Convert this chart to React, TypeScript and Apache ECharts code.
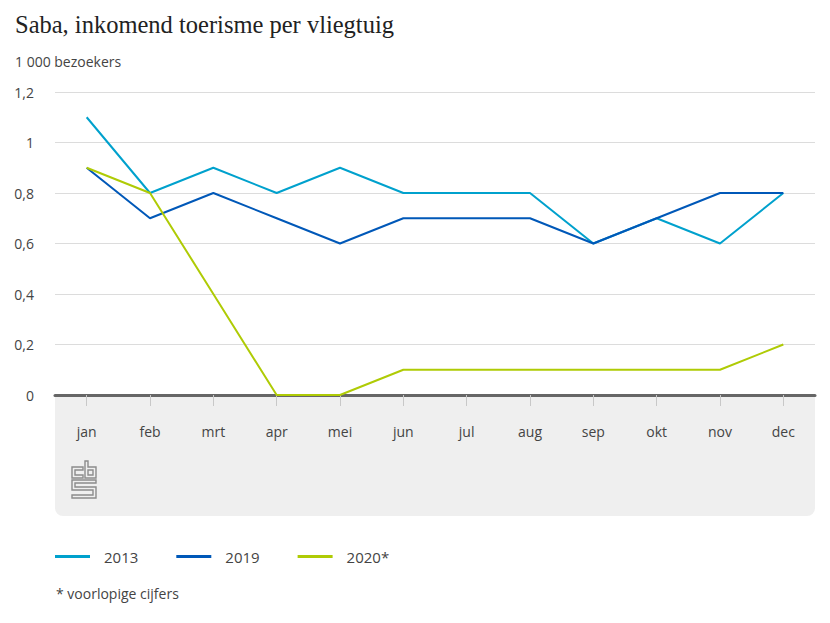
import React, { useEffect, useRef } from "react";
import * as echarts from "echarts";

const months = ["jan", "feb", "mrt", "apr", "mei", "jun", "jul", "aug", "sep", "okt", "nov", "dec"];
const values2013 = [1.1, 0.8, 0.9, 0.8, 0.9, 0.8, 0.8, 0.8, 0.6, 0.7, 0.6, 0.8];
const values2019 = [0.9, 0.7, 0.8, 0.7, 0.6, 0.7, 0.7, 0.7, 0.6, 0.7, 0.8, 0.8];
const values2020 = [0.9, 0.8, 0.4, 0, 0, 0.1, 0.1, 0.1, 0.1, 0.1, 0.1, 0.2];
const seriesNames = ["2013", "2019", "2020*"];
const colors = ["#00a1cd", "#0058b8", "#afcb05"];

const SANS = "'Open Sans', 'Noto Sans', sans-serif";

export default function App() {
  const ref = useRef<HTMLDivElement>(null);
  useEffect(() => {
    document.body.style.margin = "0";
    const chart = echarts.init(ref.current!, null, { renderer: "svg" });
    const logoStyle = { fill: "none", stroke: "#8c8c8c", lineWidth: 1.4 };
    const lx = 72, ly = 461;
    const pts = (arr: number[][]) => arr.map(([x, y]) => [lx + x, ly + y]);
    chart.setOption({
      animation: false,
      color: colors,
      title: {
        text: "Saba, inkomend toerisme per vliegtuig",
        left: 10,
        top: 7,
        textStyle: { fontFamily: "'Liberation Serif', serif", fontSize: 24.5, fontWeight: "normal", color: "#222" },
      },
      grid: { left: 55, right: 15, top: 92, bottom: 228, containLabel: false },
      legend: {
        left: 55,
        top: 549,
        padding: 0,
        itemWidth: 35,
        itemHeight: 3,
        icon: "rect",
        itemGap: 38,
        data: seriesNames,
        textStyle: { fontFamily: SANS, fontSize: 15, color: "#444", padding: [0, 0, 0, 9] },
      },
      graphic: [
        {
          type: "rect",
          z: -10,
          shape: { x: 55, y: 395, width: 760, height: 121, r: [0, 0, 8, 8] },
          style: { fill: "#efefef" },
        },
        {
          type: "text",
          left: 15,
          top: 54,
          style: { text: "1 000 bezoekers", fontFamily: SANS, fontSize: 14, fill: "#444" },
        },
        {
          type: "text",
          left: 56,
          top: 586,
          style: { text: "* voorlopige cijfers", fontFamily: SANS, fontSize: 14, fill: "#444" },
        },
        {
          type: "polygon",
          shape: { points: pts([[11, 6], [0, 6], [0, 17], [11, 17], [11, 14], [3, 14], [3, 9], [11, 9]]) },
          style: logoStyle,
        },
        {
          type: "polygon",
          shape: { points: pts([[13, 0], [16, 0], [16, 6], [24, 6], [24, 17], [13, 17]]) },
          style: logoStyle,
        },
        {
          type: "polygon",
          shape: { points: pts([[16, 9], [21, 9], [21, 14], [16, 14]]) },
          style: logoStyle,
        },
        {
          type: "polygon",
          shape: {
            points: pts([[0, 19], [24, 19], [24, 22], [3, 22], [3, 26], [24, 26], [24, 37], [0, 37], [0, 34], [21, 34], [21, 29], [0, 29]]),
          },
          style: logoStyle,
        },
      ],
      xAxis: {
        type: "category",
        data: months,
        boundaryGap: true,
        axisLine: { show: true, lineStyle: { color: "#666", width: 3 } },
        axisTick: { show: true, alignWithLabel: true, length: 11, lineStyle: { color: "#c8c8c8", width: 1 } },
        axisLabel: { margin: 29, fontFamily: SANS, fontSize: 14, color: "#444" },
        splitLine: { show: false },
      },
      yAxis: {
        type: "value",
        min: 0,
        max: 1.2,
        interval: 0.2,
        axisLine: { show: false },
        axisTick: { show: false },
        axisLabel: {
          margin: 21,
          fontFamily: SANS,
          fontSize: 14,
          color: "#444",
          formatter: (v: number) => String(Number(v.toFixed(1))).replace(".", ","),
        },
        splitLine: { lineStyle: { color: "#dcdcdc", width: 1 } },
      },
      series: [
        { name: seriesNames[0], type: "line", data: values2013, symbol: "none", lineStyle: { width: 2 }, z: 3 },
        { name: seriesNames[1], type: "line", data: values2019, symbol: "none", lineStyle: { width: 2 }, z: 4 },
        { name: seriesNames[2], type: "line", data: values2020, symbol: "none", lineStyle: { width: 2 }, z: 5 },
      ],
    });
    return () => chart.dispose();
  }, []);
  return <div ref={ref} style={{ position: "absolute", left: 0, top: 0, width: 830, height: 623 }} />;
}
